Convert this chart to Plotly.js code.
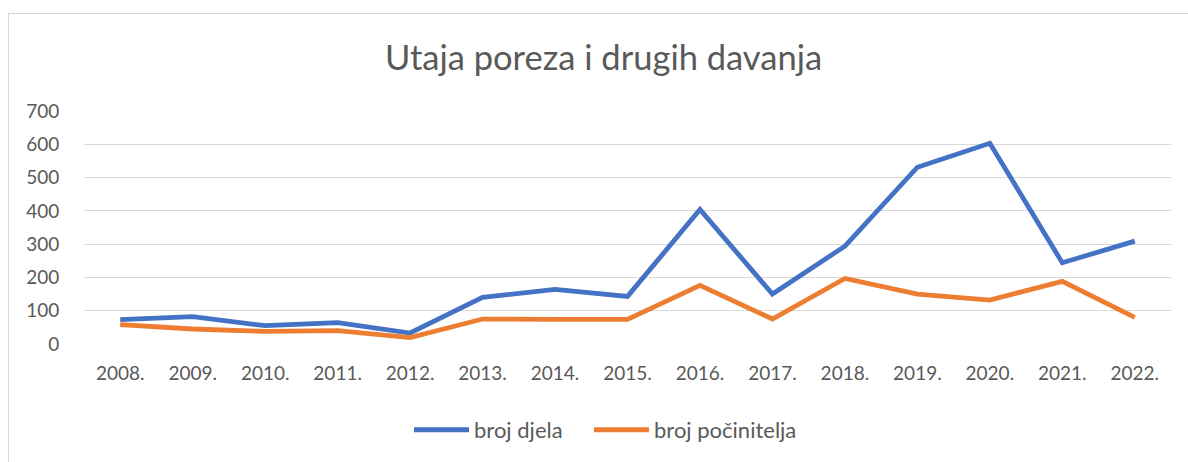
<!DOCTYPE html>
<html>
<head>
<meta charset="utf-8">
<script src="https://cdn.plot.ly/plotly-3.0.1.min.js"></script>
<style>
  html, body { margin: 0; padding: 0; background: #ffffff; }
  #frame { position: absolute; left: 8px; top: 13px; width: 1300px; height: 600px;
           border: 1px solid #d9d9d9; box-sizing: border-box; }
  #chart { position: absolute; left: 0; top: 0; width: 1188px; height: 462px; }
</style>
</head>
<body>
<div id="frame"></div>
<div id="chart"></div>
<script>
const years = ["2008.", "2009.", "2010.", "2011.", "2012.", "2013.", "2014.", "2015.",
               "2016.", "2017.", "2018.", "2019.", "2020.", "2021.", "2022."];
const brojDjela = [73, 82, 55, 64, 33, 140, 164, 143, 404, 150, 294, 531, 603, 244, 309];
const brojPocinitelja = [58, 45, 38, 40, 19, 75, 74, 74, 176, 75, 197, 150, 132, 188, 80];
const yTicks = [0, 100, 200, 300, 400, 500, 600, 700];

const FONT = "Lato, 'Open Sans', sans-serif";
const GREY = "#595959";

const traces = [
  { x: years, y: brojDjela, type: "scatter", mode: "lines", name: "broj djela",
    legend: "legend", line: { color: "#4472C4", width: 4.8 } },
  { x: years, y: brojPocinitelja, type: "scatter", mode: "lines", name: "broj počinitelja",
    legend: "legend2", line: { color: "#ED7D31", width: 4.8 } }
];

const legendBase = { orientation: "h", xanchor: "left", y: -0.363, yanchor: "middle",
                     font: { family: FONT, size: 22, color: GREY }, itemwidth: 55,
                     bgcolor: "rgba(0,0,0,0)", borderwidth: 0 };

const layout = {
  width: 1188, height: 462,
  paper_bgcolor: "rgba(0,0,0,0)", plot_bgcolor: "rgba(0,0,0,0)",
  margin: { l: 84, r: 17, t: 111, b: 117 },
  font: { family: FONT, color: GREY, size: 19 },
  title: { text: "Utaja poreza i drugih davanja", font: { family: FONT, size: 34.5, color: GREY },
           x: 0.508, xanchor: "center", y: 0.874, yanchor: "middle" },
  xaxis: { type: "category", range: [-0.5, 14.5], showgrid: false, zeroline: false,
           showline: false, ticks: "outside", ticklen: 12, tickcolor: "rgba(0,0,0,0)",
           tickfont: { family: FONT, size: 19, color: GREY }, fixedrange: true },
  yaxis: { range: [0, 700], tickvals: yTicks, ticktext: yTicks.map(String),
           showgrid: true, gridcolor: "#d9d9d9", gridwidth: 1, zeroline: false,
           showline: false, ticks: "outside", ticklen: 20, tickcolor: "rgba(0,0,0,0)",
           tickfont: { family: FONT, size: 19, color: GREY }, fixedrange: true },
  showlegend: true,
  legend: Object.assign({}, legendBase, { x: 0.2990 }),
  legend2: Object.assign({}, legendBase, { x: 0.4646 }),
  hovermode: false
};

Plotly.newPlot("chart", traces, layout, { displayModeBar: false, staticPlot: true });
</script>
</body>
</html>
